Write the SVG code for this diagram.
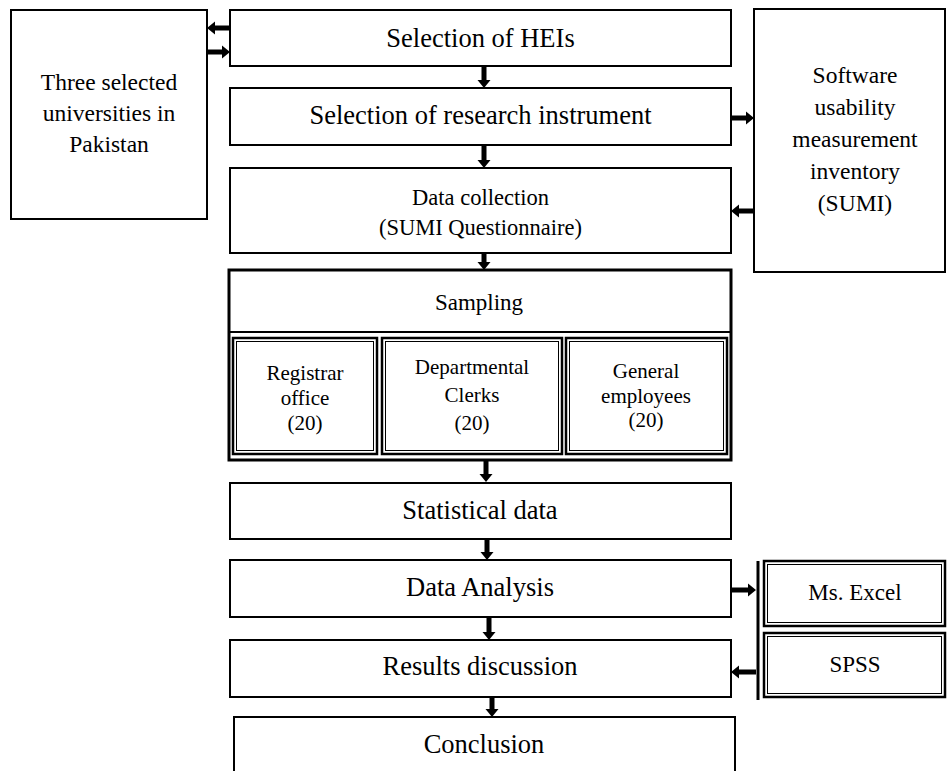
<svg xmlns="http://www.w3.org/2000/svg" width="947" height="771" viewBox="0 0 947 771">
<style>
.b{fill:#fff;stroke:#000;stroke-width:2}
.t{font-family:"Liberation Serif","Times New Roman",serif;fill:#000;text-anchor:middle}
.m{font-size:26.5px}
.s{font-size:23.5px}
.r{font-size:21px}
.a{fill:#000}
.th{fill:none;stroke:#000;stroke-width:2.5}
.tn{fill:none;stroke:#000;stroke-width:1}
</style>
<rect width="947" height="771" fill="#fff"/>
<g id="left-box">
<rect class="b" x="11" y="10" width="196" height="209"/>
<text class="t s" x="109" y="90">Three selected</text>
<text class="t s" x="109" y="121">universities in</text>
<text class="t s" x="109" y="152">Pakistan</text>
</g>
<g id="heis">
<rect class="b" x="230" y="10" width="501" height="56"/>
<text class="t m" x="480.5" y="47">Selection of HEIs</text>
</g>
<g id="instrument">
<rect class="b" x="230" y="88" width="501" height="57"/>
<text class="t m" x="480.5" y="124">Selection of research instrument</text>
</g>
<g id="collection">
<rect class="b" x="230" y="168" width="501" height="85"/>
<text class="t" style="font-size:22.5px" x="480.5" y="205">Data collection</text>
<text class="t" style="font-size:22.5px" x="480.5" y="235">(SUMI Questionnaire)</text>
</g>
<g id="sumi">
<rect class="b" x="754" y="9" width="191" height="263"/>
<text class="t s" x="855" y="83">Software</text>
<text class="t s" x="855" y="115">usability</text>
<text class="t s" x="855" y="147">measurement</text>
<text class="t s" x="855" y="179">inventory</text>
<text class="t s" x="855" y="211">(SUMI)</text>
</g>
<g id="sampling">
<rect fill="#fff" stroke="#000" stroke-width="3" x="229" y="270" width="502" height="190"/>
<line x1="229" y1="332" x2="731" y2="332" stroke="#000" stroke-width="2"/>
<text class="t" style="font-size:23px" x="479" y="310">Sampling</text>
</g>
<g id="registrar">
<rect class="th" x="233" y="338" width="144" height="116"/>
<rect class="tn" x="236.5" y="341.5" width="137" height="109"/>
<text class="t r" x="305" y="380">Registrar</text>
<text class="t r" x="305" y="405">office</text>
<text class="t r" x="305" y="430">(20)</text>
</g>
<g id="clerks">
<rect class="th" x="382" y="338" width="180" height="116"/>
<rect class="tn" x="385.5" y="341.5" width="173" height="109"/>
<text class="t r" x="472" y="374">Departmental</text>
<text class="t r" x="472" y="402">Clerks</text>
<text class="t r" x="472" y="430">(20)</text>
</g>
<g id="employees">
<rect class="th" x="566" y="338" width="161" height="116"/>
<rect class="tn" x="569.5" y="341.5" width="154" height="109"/>
<text class="t r" x="646" y="378">General</text>
<text class="t r" x="646" y="403">employees</text>
<text class="t r" x="646" y="427">(20)</text>
</g>
<g id="statistical">
<rect class="b" x="230" y="483" width="501" height="56"/>
<text class="t m" x="480" y="519">Statistical data</text>
</g>
<g id="analysis">
<rect class="b" x="230" y="560" width="501" height="57"/>
<text class="t m" x="480" y="596">Data Analysis</text>
</g>
<g id="results">
<rect class="b" x="230" y="640" width="501" height="57"/>
<text class="t m" x="480" y="675">Results discussion</text>
</g>
<g id="conclusion">
<rect class="b" x="234" y="717" width="501" height="70"/>
<text class="t m" x="484" y="753">Conclusion</text>
</g>
<g id="excel">
<rect class="th" x="764" y="561" width="181" height="65"/>
<rect class="tn" x="767.5" y="564.5" width="174" height="58"/>
<text class="t" style="font-size:23px" x="855" y="600">Ms. Excel</text>
</g>
<g id="spss">
<rect class="th" x="764" y="633" width="181" height="64"/>
<rect class="tn" x="767.5" y="636.5" width="174" height="57"/>
<text class="t" style="font-size:23px" x="855" y="672">SPSS</text>
</g>
<g id="connectors">
<line x1="758" y1="561" x2="758" y2="700" stroke="#000" stroke-width="3"/>
<polygon class="a" points="481.5,66 486.5,66 486.5,80 490.5,80 484,88 477.5,80 481.5,80"/>
<polygon class="a" points="481.5,145 486.5,145 486.5,160 490.5,160 484,168 477.5,160 481.5,160"/>
<polygon class="a" points="481.5,253 486.5,253 486.5,262 490.5,262 484,270 477.5,262 481.5,262"/>
<polygon class="a" points="483.5,460 488.5,460 488.5,474 492.5,474 486,482 479.5,474 483.5,474"/>
<polygon class="a" points="484.5,539 489.5,539 489.5,552 493.5,552 487,560 480.5,552 484.5,552"/>
<polygon class="a" points="486.5,617 491.5,617 491.5,632 495.5,632 489,640 482.5,632 486.5,632"/>
<polygon class="a" points="489.5,697 494.5,697 494.5,709 498.5,709 492,717 485.5,709 489.5,709"/>
<polygon class="a" points="230,25.5 230,30.5 215,30.5 215,34.5 207,28 215,21.5 215,25.5"/>
<polygon class="a" points="207,49.5 207,54.5 222,54.5 222,58.5 230,52 222,45.5 222,49.5"/>
<polygon class="a" points="731,115.5 731,120.5 746,120.5 746,124.5 754,118 746,111.5 746,115.5"/>
<polygon class="a" points="754,208.5 754,213.5 739,213.5 739,217.5 731,211 739,204.5 739,208.5"/>
<polygon class="a" points="731,587.5 731,592.5 748,592.5 748,596.5 756,590 748,583.5 748,587.5"/>
<polygon class="a" points="756,669.5 756,674.5 739,674.5 739,678.5 731,672 739,665.5 739,669.5"/>
</g>
</svg>
